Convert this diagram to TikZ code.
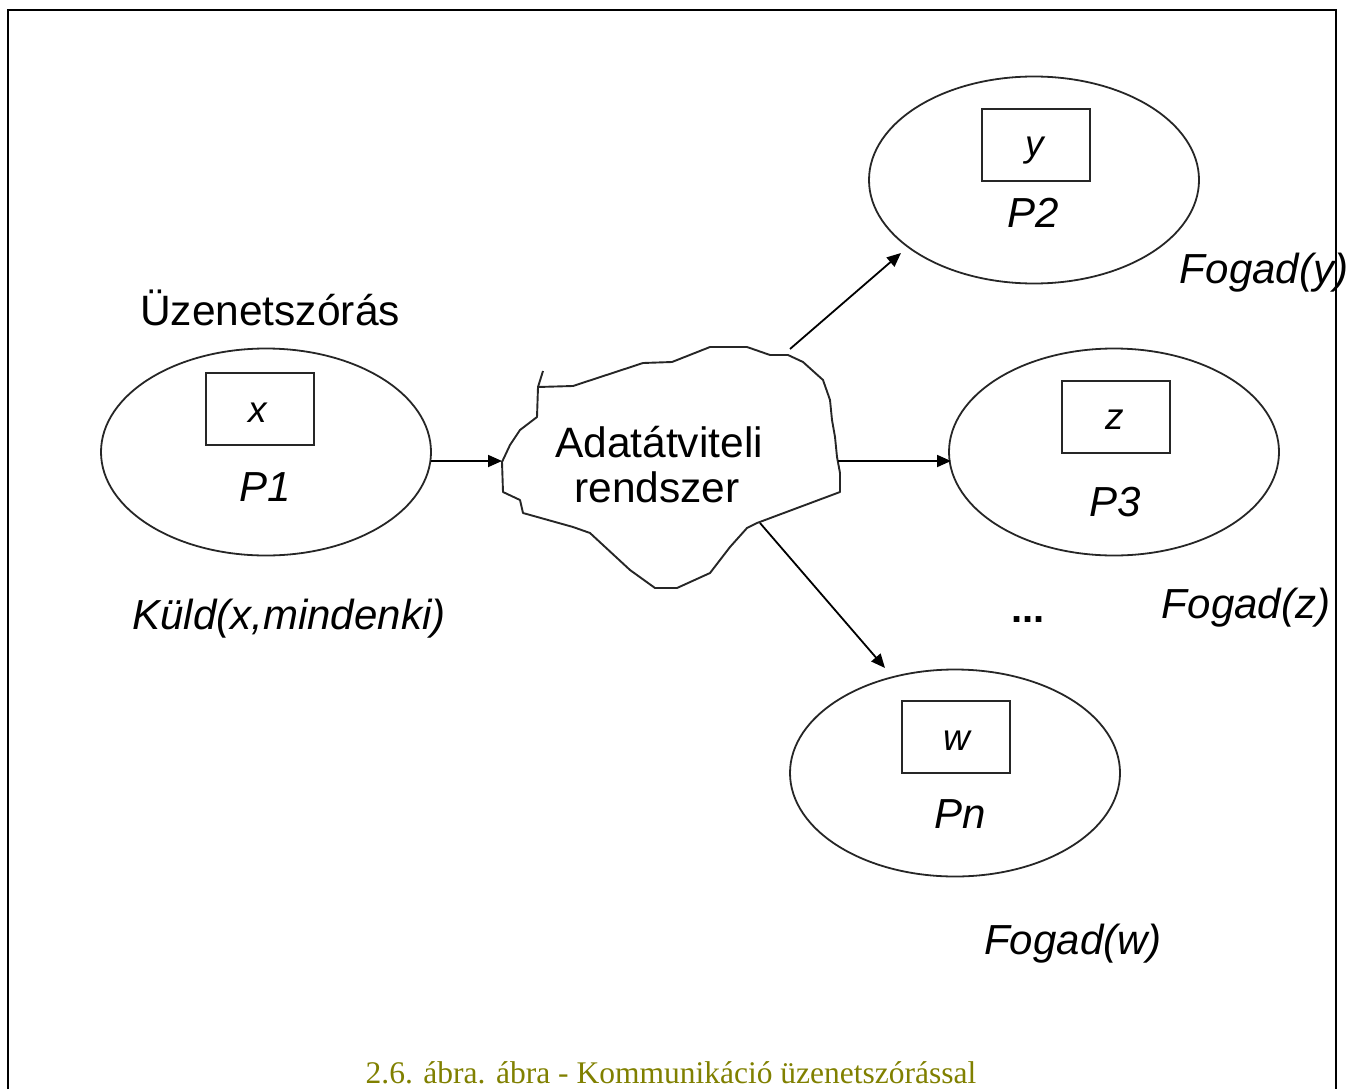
\documentclass[tikz,border=0pt]{standalone}
\usepackage{fontspec}
\setmainfont{Liberation Serif}
\newfontfamily\arial{Liberation Sans}
\usetikzlibrary{shapes.geometric,arrows.meta}
\definecolor{captol}{RGB}{128,128,0}
\begin{document}
\begin{tikzpicture}[x=1pt,y=-1pt,
  proc/.style={draw=black!85,line width=1.8pt,ellipse,minimum width=330pt,minimum height=207pt,inner sep=0pt},
  varbox/.style={draw=black!85,line width=1.8pt,rectangle,minimum width=108pt,minimum height=72pt,inner sep=0pt},
  bigtxt/.style={font=\arial\fontsize{42.5}{48}\selectfont,inner sep=0pt,anchor=base},
  itxt/.style={font=\arial\itshape\fontsize{42}{48}\selectfont,inner sep=0pt,anchor=base},
  vartxt/.style={font=\arial\itshape\fontsize{37}{42}\selectfont,inner sep=0pt,anchor=base},
  conn/.style={line width=1.8pt,-{Triangle[length=14pt,width=12pt]}},
  cloudline/.style={draw=black!85,line width=1.9pt,line join=round}]
\useasboundingbox (0,0) rectangle (1351,1089);
% outer frame, open at the bottom
\draw[line width=2.6pt] (8,1089) -- (8,10) -- (1336,10) -- (1336,1089);

% processes
\node[proc] (p1) at (266,452) {};
\node[proc] (p2) at (1034,180) {};
\node[proc] (p3) at (1114,452) {};
\node[proc] (pn) at (955,773) {};

% local variables
\node[varbox] (bx) at (260,409) {};
\node[varbox] (by) at (1036,145) {};
\node[varbox] (bz) at (1116,417) {};
\node[varbox] (bw) at (956,737) {};
\node[vartxt] (tx) at (258,422) {x};
\node[vartxt] (ty) at (1035,156) {y};
\node[vartxt] (tz) at (1115,429) {z};
\node[vartxt] (tw) at (957,750) {w};

% process names
\node[itxt] (n1) at (265,501) {P1};
\node[itxt] (n2) at (1033,227) {P2};
\node[itxt] (n3) at (1115,516) {P3};
\node[itxt] (nn) at (960,828) {Pn};

% transmission medium
\draw[cloudline] (543,371) -- (538,387) -- (573,386) -- (643,363) -- (672,362)
  -- (710,347) -- (747,347) -- (770,355) -- (788,355) -- (803,362) -- (823,380)
  -- (830,400) -- (832,420) -- (835,437) -- (837,457) -- (840,473) -- (840,492)
  -- (757,523) -- (747,528) -- (730,547) -- (710,573) -- (677,588) -- (655,588)
  -- (630,570) -- (590,533) -- (573,527) -- (523,513) -- (520,500) -- (503,492)
  -- (502,462) -- (510,445) -- (520,430) -- (537,417) -- (538,387);
\node[bigtxt] (c1) at (659,457) {Adatátviteli};
\node[bigtxt] (c2) at (657,502) {rendszer};

% connector ends
\coordinate (cin) at (502,461);
\coordinate (o2) at (790,349);
\coordinate (e2) at (901,253);
\coordinate (o3) at (838,461);
\coordinate (e3) at (951,461);
\coordinate (on) at (760,523);
\coordinate (en) at (885,668);

\draw[conn] (431,461) -- (cin);
\draw[conn] (o2) -- (e2);
\draw[conn] (o3) -- (e3);
\draw[conn] (on) -- (en);

% labels
\node[bigtxt] (title) at (270,325) {Üzenetszórás};
\node[itxt] (send) at (289,629) {Küld(x,mindenki)};
\node[itxt] (fy) at (1264,283) {Fogad(y)};
\node[itxt] (fz) at (1246,618) {Fogad(z)};
\node[itxt] (fw) at (1073,954) {Fogad(w)};
\node[font=\arial\bfseries\fontsize{40}{46}\selectfont,inner sep=0pt,anchor=base] (dots) at (1028,622) {...};

% caption
\node[font=\fontsize{31.5}{36}\selectfont,text=captol,inner sep=0pt,anchor=base] (cap) at (671,1083) {2.6. ábra. ábra - Kommunikáció üzenetszórással};
\end{tikzpicture}
\end{document}
